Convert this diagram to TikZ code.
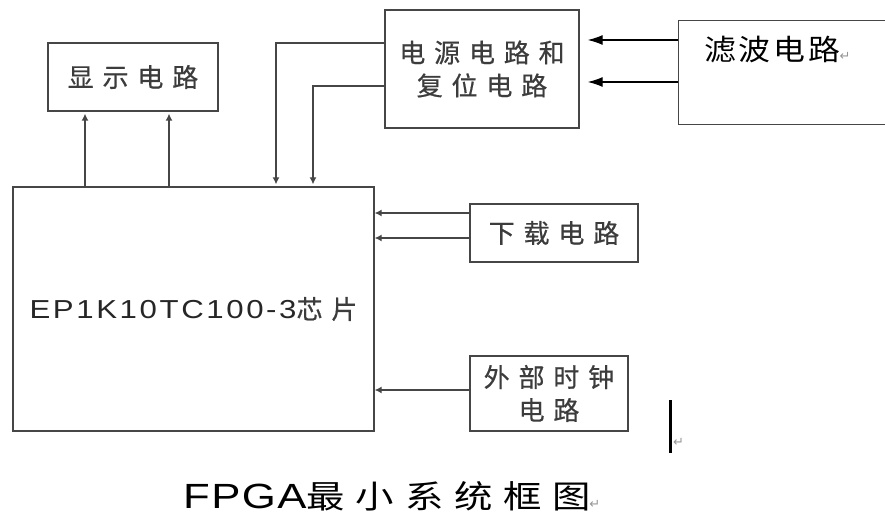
\documentclass[tikz,border=0pt]{standalone}
\usepackage{fontspec}
\usepackage{xcolor}
\usetikzlibrary{arrows.meta}
\newfontfamily\latinfont{Liberation Sans}[FakeStretch=1.2, LetterSpace=10]
\newfontfamily\titlefont{Liberation Sans}[FakeStretch=1.25, LetterSpace=4]
\newfontfamily\cjkfont{Noto Sans CJK SC}[LetterSpace=34, FakeBold=0.6]
\newfontfamily\cjkfilter{Noto Sans CJK SC}[FakeStretch=1.1, LetterSpace=10]
\newfontfamily\cjktitle{Noto Sans CJK SC}[FakeStretch=1.2, LetterSpace=34]
\newfontfamily\markfont{DejaVu Sans}
\definecolor{wire}{RGB}{70,70,70}
\definecolor{boxtext}{RGB}{60,60,60}
\definecolor{parmark}{RGB}{150,150,150}
\newcommand{\parmark}{{\markfont\fontsize{13}{13}\selectfont\color{parmark}↵}}

\begin{document}
\begin{tikzpicture}[
    x=1pt, y=-1pt,
    blk/.style={draw=wire, line width=1.3pt, inner sep=0pt, align=center,
        text=boxtext, font=\cjkfont\fontsize{26}{33}\selectfont},
    sarrow/.style={draw=wire, line width=1.3pt, -{Latex[length=7pt,width=7pt]}},
    barrow/.style={draw=black, line width=1.3pt, -{Latex[length=15pt,width=10pt]}},
]

\clip (0,0) rectangle (885,518);

% ===== blocks =====
\node[blk, minimum width=170, minimum height=68] (disp) at (133,77) {显示电路};
\node[blk, minimum width=194, minimum height=118] (power) at (482,69) {电源电路和\\复位电路};
\node[blk, minimum width=222, minimum height=104, anchor=north west] (filter) at (678,20) {};
\node[anchor=west, inner sep=0pt, font=\cjkfilter\fontsize{29}{29}\selectfont] (filtertxt)
    at (704,50) {滤波电路\kern-1pt\parmark};
\node[blk, minimum width=361, minimum height=244] (chip) at (193.5,309)
    {{\latinfont\color{black!85}EP1K10TC100-3}芯片};
\node[blk, minimum width=168, minimum height=58] (download) at (554,233) {下载电路};
\node[blk, minimum width=158, minimum height=75] (clock) at (549,393.5) {外部时钟\\电路};

% ===== connectors =====
% chip -> display
\foreach \x in {85,169} {
    \coordinate (up\x) at (\x,0);
    \draw[sarrow, shorten >=2pt] (up\x |- chip.north) -- (up\x |- disp.south);
}
% power -> chip
\foreach \x/\y in {276/43, 313/86} {
    \coordinate (pw\x) at (\x,\y);
    \draw[sarrow, shorten >=2pt] (pw\x -| power.west) -- (pw\x) -- (pw\x |- chip.north);
}
% filter -> power
\foreach \y in {40,82} {
    \coordinate (fl\y) at (0,\y);
    \draw[barrow, shorten >=8pt] (fl\y -| filter.west) -- (fl\y -| power.east);
}
% download, clock -> chip
\foreach \y in {213,238} {
    \coordinate (dl\y) at (0,\y);
    \draw[sarrow] (dl\y -| download.west) -- (dl\y -| chip.east);
}
\coordinate (ck) at (0,390);
\draw[sarrow] (ck -| clock.west) -- (ck -| chip.east);

% ===== caption and cursor =====
\node[anchor=base west, inner sep=0pt] (title) at (183,508)
    {{\titlefont\fontsize{35}{35}\selectfont FPGA}{\cjktitle\fontsize{32}{32}\selectfont 最小系统框图}\kern-2pt\parmark};
\fill[black] (669,400) rectangle (672,453);
\node[anchor=west, inner sep=0pt] (cursormark) at (673,442) {\parmark};

\end{tikzpicture}
\end{document}
